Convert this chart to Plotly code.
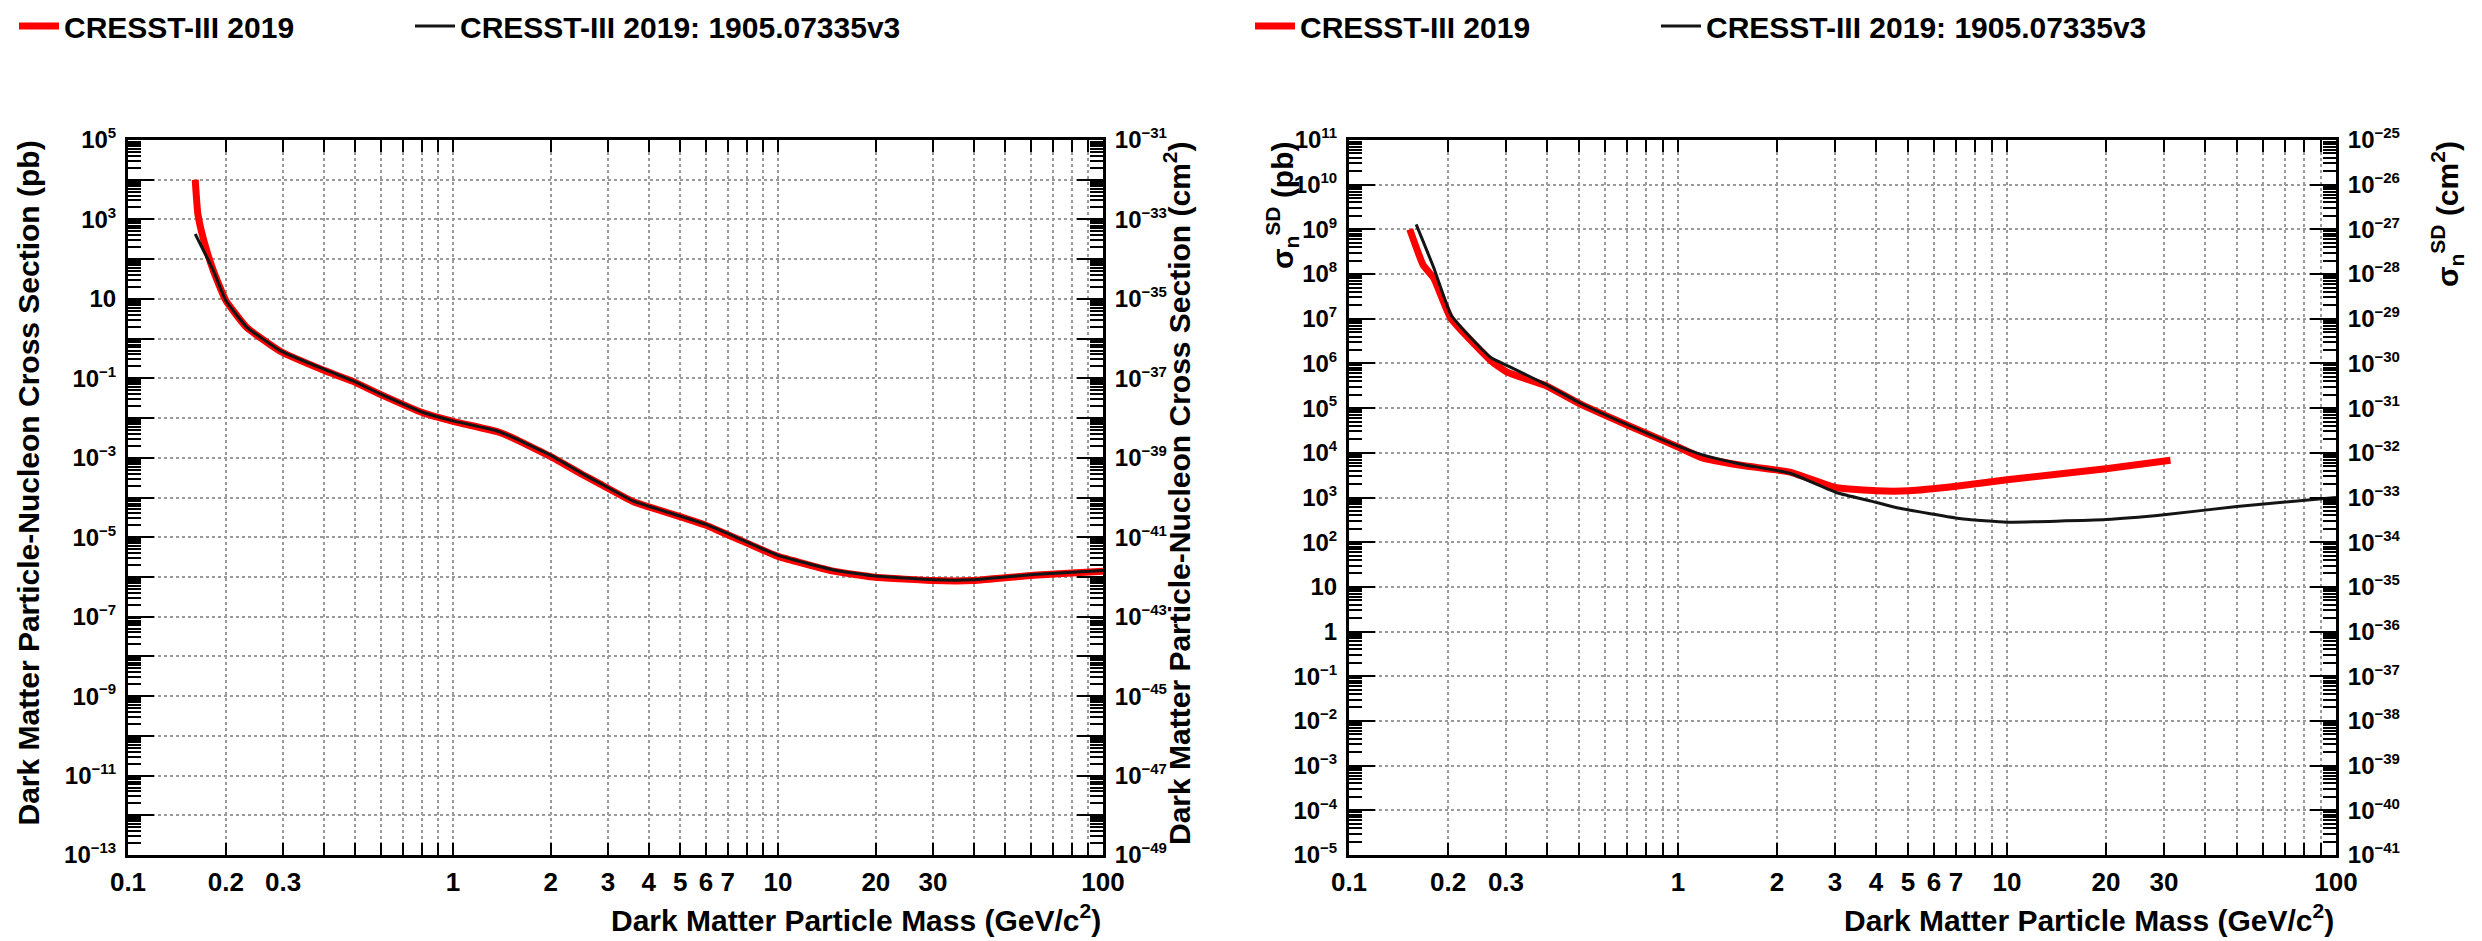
import plotly.graph_objects as go

# ---------------- data ----------------
# Spin-independent exclusion limits, cross section in pb
si_mass_red = [0.161, 0.164, 0.171, 0.183, 0.2, 0.232, 0.294, 0.40, 0.49, 0.60, 0.81, 1.0,
               1.36, 1.5, 2.0, 2.5, 2.83, 3.59, 5.0, 6.0, 7.3, 9.9, 14.8, 20, 30, 40, 61, 100]
si_xsec_red = [1.0e4, 1.4e3, 3.0e2, 52, 9.1, 1.9, 0.48, 0.16, 0.085, 0.039, 0.0135, 0.0083,
               4.6e-3, 3.4e-3, 1.07e-3, 3.8e-4, 2.2e-4, 7.8e-5, 3.3e-5, 2.0e-5, 1.0e-5, 3.4e-6,
               1.4e-6, 9.8e-7, 8.1e-7, 8.1e-7, 1.1e-6, 1.4e-6]
si_mass_black = [0.161, 0.183, 0.2, 0.232, 0.294, 0.40, 0.49, 0.60, 0.81, 1.0, 1.36, 1.5,
                 2.0, 2.5, 2.83, 3.59, 5.0, 6.0, 7.3, 9.9, 14.8, 20, 30, 40, 61, 100]
si_xsec_black = [4.3e2, 52, 9.1, 1.95, 0.50, 0.17, 0.087, 0.040, 0.0138, 0.0085, 4.8e-3, 3.5e-3,
                 1.15e-3, 4.0e-4, 2.3e-4, 8.1e-5, 3.4e-5, 2.1e-5, 1.07e-5, 3.6e-6, 1.5e-6,
                 1.05e-6, 8.5e-7, 8.5e-7, 1.15e-6, 1.45e-6]

# Spin-dependent (neutron) exclusion limits, cross section in pb
sd_mass_red = [0.153, 0.168, 0.181, 0.204, 0.271, 0.305, 0.396, 0.502, 0.70, 1.0, 1.18,
               1.57, 2.19, 3.03, 4.0, 5.03, 7.0, 10, 20, 31.4]
sd_xsec_red = [1.0e9, 1.6e8, 8.1e7, 1.02e7, 1.12e6, 6.2e5, 3.2e5, 1.26e5, 4.2e4, 1.35e4, 7.8e3,
               5.2e3, 3.7e3, 1.66e3, 1.41e3, 1.41e3, 1.78e3, 2.5e3, 4.4e3, 6.8e3]
sd_mass_black = [0.160, 0.181, 0.204, 0.235, 0.271, 0.305, 0.396, 0.502, 0.70, 1.0, 1.18, 1.57,
                 2.19, 3.06, 3.87, 4.67, 7.36, 10, 20, 30, 50, 100]
sd_xsec_black = [1.29e9, 1.38e8, 1.23e7, 3.7e6, 1.32e6, 8.7e5, 3.4e5, 1.32e5, 4.3e4, 1.41e4,
                 9.1e3, 5.5e3, 3.5e3, 1.26e3, 8.3e2, 5.8e2, 3.3e2, 2.8e2, 3.2e2, 4.1e2, 6.3e2, 1.0e3]

series_names = ["CRESST-III 2019", "CRESST-III 2019: 1905.07335v3"]

# mass axis labels
x_tick_vals = [0.1, 0.2, 0.3, 1, 2, 3, 4, 5, 6, 7, 10, 20, 30, 100]
x_tick_text = ["0.1", "0.2", "0.3", "1", "2", "3", "4", "5", "6", "7", "10", "20", "30", "100"]
x_major_vals = [1, 10]

# 1 pb = 1e-36 cm^2
PB_TO_CM2_EXP = -36
PB_TO_CM2 = 10.0 ** PB_TO_CM2_EXP

# ---------------- styling ----------------
W, H = 2482, 941
FONT = "Liberation Sans, Arial, Helvetica, sans-serif"
RED = "#ff0000"
BLACK = "#141414"
GRID = "#9a9a9a"


def dec_label(e):
    if e == 0:
        return "1"
    if e == 1:
        return "10"
    exp = ("\u2212%d" % (-e)) if e < 0 else str(e)
    return '10<sup><span style="font-size:15px">%s</span></sup>' % exp


def decades(lo, hi):
    return list(range(lo, hi + 1))


def minor_vals(lo, hi):
    return [k * 10.0 ** e for e in range(lo, hi) for k in range(2, 10)]


x_minor_vals = [v for v in minor_vals(-1, 2) if all(abs(v - t) > 1e-9 * t for t in x_tick_vals)]

xtickfont = dict(family=FONT, size=26, color="black", weight="bold")
ytickfont = dict(family=FONT, size=24, color="black", weight="bold")
titlefont = dict(family=FONT, size=30, color="black", weight="bold")


def px_x(p):
    return p / W


def px_y(p):
    return 1 - p / H


def mass_axis(domain, anchor):
    return dict(
        type="log", range=[-1, 2], domain=domain, anchor=anchor,
        tickmode="array", tickvals=x_tick_vals, ticktext=x_tick_text,
        ticks="inside", ticklen=12, tickwidth=2, tickcolor="black",
        tickfont=xtickfont, ticklabelstandoff=2,
        showline=True, linewidth=3, linecolor="black", mirror="ticks",
        showgrid=True, gridcolor=GRID, griddash="dot", gridwidth=2,
        zeroline=False,
        minor=dict(tickmode="array", tickvals=x_minor_vals, ticks="inside", ticklen=12,
                   tickwidth=2, tickcolor="black", showgrid=True, gridcolor=GRID,
                   griddash="dot", gridwidth=2),
    )


def long_tick_axis(over, anchor):
    return dict(
        type="log", range=[-1, 2], overlaying=over, anchor=anchor, side="bottom",
        tickmode="array", tickvals=x_major_vals, ticks="inside", ticklen=24, tickwidth=2,
        tickcolor="black", showticklabels=False, showgrid=False, zeroline=False,
        showline=False, mirror="ticks",
    )


def xsec_axis(lo, hi, every, domain=None, anchor=None, side="left", overlaying=None, grid=True):
    exps = decades(lo, hi)
    text = [dec_label(e) if (e - hi) % every == 0 else "" for e in exps]
    ax = dict(
        type="log", range=[lo, hi], anchor=anchor, side=side,
        tickmode="array", tickvals=[10.0 ** e for e in exps], ticktext=text,
        ticks="inside", ticklen=26, tickwidth=2, tickcolor="black",
        tickfont=ytickfont, ticklabelstandoff=4, showticklabels=True,
        showline=True, linewidth=3, linecolor="black",
        showgrid=grid, gridcolor=GRID, griddash="dot", gridwidth=2,
        zeroline=False,
        minor=dict(tickmode="array", tickvals=minor_vals(lo, hi), ticks="inside", ticklen=13,
                   tickwidth=1.5, tickcolor="black", showgrid=False),
    )
    if domain is not None:
        ax["domain"] = domain
    if overlaying is not None:
        ax["overlaying"] = overlaying
    return ax


left_dom = [px_x(128), px_x(1103)]
right_dom = [px_x(1349), px_x(2336)]
y_dom = [px_y(855), px_y(140)]

fig = go.Figure()

# left panel: spin-independent (red in pb on left scale, black in cm^2 on right scale)
fig.add_trace(go.Scatter(x=si_mass_red, y=si_xsec_red, mode="lines", name=series_names[0],
                         line=dict(color=RED, width=7, shape="spline", smoothing=0.4),
                         xaxis="x", yaxis="y", legend="legend"))
fig.add_trace(go.Scatter(x=si_mass_black, y=[v * PB_TO_CM2 for v in si_xsec_black],
                         mode="lines", name=series_names[1],
                         line=dict(color=BLACK, width=3, shape="spline", smoothing=0.4),
                         xaxis="x", yaxis="y2", legend="legend3"))

# right panel: spin-dependent
fig.add_trace(go.Scatter(x=sd_mass_red, y=sd_xsec_red, mode="lines", name=series_names[0],
                         line=dict(color=RED, width=7, shape="spline", smoothing=0.4),
                         xaxis="x3", yaxis="y3", legend="legend2"))
fig.add_trace(go.Scatter(x=sd_mass_black, y=[v * PB_TO_CM2 for v in sd_xsec_black],
                         mode="lines", name=series_names[1],
                         line=dict(color=BLACK, width=3, shape="spline", smoothing=0.4),
                         xaxis="x3", yaxis="y4", legend="legend4"))

si_lo, si_hi = -13, 5
sd_lo, sd_hi = -5, 11


def legend_at(xpx):
    return dict(x=px_x(xpx), y=px_y(26), orientation="h", xanchor="left", yanchor="middle",
                font=dict(family=FONT, size=30, color="black", weight="bold"),
                bgcolor="rgba(0,0,0,0)", itemwidth=40)


fig.update_layout(
    width=W, height=H,
    margin=dict(l=0, r=0, t=0, b=0, autoexpand=False),
    paper_bgcolor="white", plot_bgcolor="white",
    showlegend=True,
    legend=legend_at(14),
    legend3=legend_at(410),
    legend2=legend_at(1250),
    legend4=legend_at(1656),
    xaxis=mass_axis(left_dom, "y"),
    xaxis2=long_tick_axis("x", "y"),
    yaxis=xsec_axis(si_lo, si_hi, 2, domain=y_dom, anchor="x"),
    yaxis2=xsec_axis(si_lo + PB_TO_CM2_EXP, si_hi + PB_TO_CM2_EXP, 2, anchor="x",
                     side="right", overlaying="y", grid=False),
    xaxis3=mass_axis(right_dom, "y3"),
    xaxis4=long_tick_axis("x3", "y3"),
    yaxis3=xsec_axis(sd_lo, sd_hi, 1, domain=y_dom, anchor="x3"),
    yaxis4=xsec_axis(sd_lo + PB_TO_CM2_EXP, sd_hi + PB_TO_CM2_EXP, 1, anchor="x3",
                     side="right", overlaying="y3", grid=False),
)

annos = [
    dict(text="Dark Matter Particle Mass (GeV/c<sup>2</sup>)", x=px_x(1103), y=px_y(918),
         xanchor="right", yanchor="middle"),
    dict(text="Dark Matter Particle Mass (GeV/c<sup>2</sup>)", x=px_x(2336), y=px_y(918),
         xanchor="right", yanchor="middle"),
    dict(text="Dark Matter Particle-Nucleon Cross Section (pb)", x=px_x(28), y=px_y(139),
         xanchor="center", yanchor="top", textangle=-90),
    dict(text="Dark Matter Particle-Nucleon Cross Section (cm<sup>2</sup>)", x=px_x(1177),
         y=px_y(139), xanchor="center", yanchor="top", textangle=-90),
    dict(text="\u03c3<sub>n</sub><sup>SD</sup> (pb)", x=px_x(1282), y=px_y(139),
         xanchor="center", yanchor="top", textangle=-90),
    dict(text="\u03c3<sub>n</sub><sup>SD</sup> (cm<sup>2</sup>)", x=px_x(2447), y=px_y(139),
         xanchor="center", yanchor="top", textangle=-90),
]
for a in annos:
    fig.add_annotation(xref="paper", yref="paper", showarrow=False, font=titlefont, **a)

fig.write_html("out.html")
